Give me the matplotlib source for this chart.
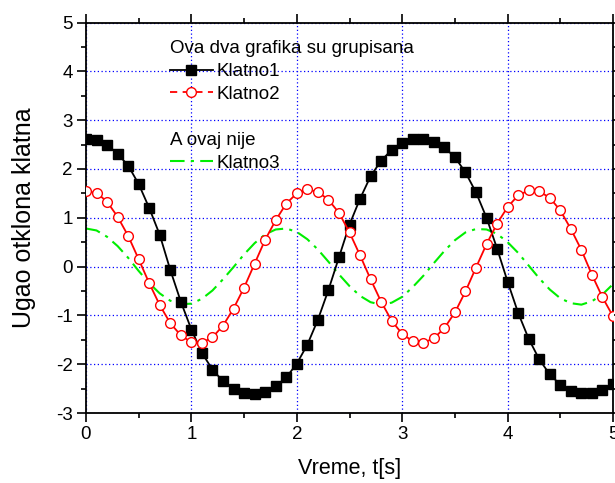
import matplotlib
matplotlib.use("Agg")
import matplotlib.pyplot as plt
from matplotlib.lines import Line2D
from matplotlib.ticker import MultipleLocator

plt.rcParams['font.family'] = ['Liberation Sans', 'DejaVu Sans']
plt.rcParams['axes.unicode_minus'] = False

# vreme [s], korak 0.1
t = [round(0.1 * i, 1) for i in range(51)]

klatno1 = [2.61, 2.59, 2.50, 2.31, 2.07, 1.69, 1.20, 0.65, -0.07, -0.72,
           -1.29, -1.77, -2.11, -2.35, -2.50, -2.59, -2.61, -2.56, -2.45, -2.27,
           -1.99, -1.60, -1.09, -0.48, 0.19, 0.86, 1.39, 1.85, 2.17, 2.39,
           2.54, 2.61, 2.61, 2.56, 2.44, 2.24, 1.93, 1.52, 1.00, 0.37,
           -0.31, -0.95, -1.48, -1.90, -2.21, -2.42, -2.55, -2.60, -2.59, -2.53,
           -2.40]

klatno2 = [1.54, 1.51, 1.33, 1.02, 0.63, 0.15, -0.34, -0.79, -1.16, -1.41,
           -1.55, -1.56, -1.45, -1.21, -0.86, -0.43, 0.06, 0.55, 0.95, 1.29,
           1.50, 1.58, 1.53, 1.37, 1.10, 0.70, 0.23, -0.26, -0.72, -1.11,
           -1.38, -1.53, -1.56, -1.47, -1.26, -0.94, -0.51, -0.02, 0.46, 0.88,
           1.22, 1.46, 1.56, 1.54, 1.41, 1.15, 0.77, 0.34, -0.17, -0.63,
           -1.02]

klatno3 = [0.78, 0.74, 0.61, 0.42, 0.18, -0.09, -0.34, -0.55, -0.70, -0.77,
           -0.76, -0.66, -0.49, -0.26, -0.01, 0.25, 0.48, 0.66, 0.76, 0.78,
           0.71, 0.56, 0.35, 0.10, -0.16, -0.40, -0.60, -0.73, -0.78, -0.74,
           -0.62, -0.42, -0.19, 0.07, 0.32, 0.54, 0.70, 0.77, 0.76, 0.67,
           0.50, 0.28, 0.02, -0.24, -0.47, -0.65, -0.75, -0.78, -0.71, -0.57,
           -0.36]

GREEN = '#00ee00'
DASHDOT = (0, (7, 3, 1.5, 3))

fig = plt.figure(figsize=(6.15, 4.83), dpi=100)
ax = fig.add_axes([0.1398, 0.1449, 0.857, 0.8085])

ax.plot(t, klatno1, color='black', lw=1.3, marker='s', ms=6.5,
        mfc='black', mec='black', zorder=3)
ax.plot(t, klatno2, color='red', lw=1.3, marker='o', ms=7,
        mfc='white', mec='red', mew=1.0, zorder=3)
ax.plot(t, klatno3, color=GREEN, lw=1.5, ls=DASHDOT, zorder=2)

ax.set_xlim(0, 5)
ax.set_ylim(-3, 5)
ax.xaxis.set_major_locator(MultipleLocator(1))
ax.xaxis.set_minor_locator(MultipleLocator(0.5))
ax.yaxis.set_major_locator(MultipleLocator(1))
ax.yaxis.set_minor_locator(MultipleLocator(0.5))

ax.grid(True, which='major', color='blue', ls=(0, (1, 2)), lw=0.9)
ax.set_axisbelow(True)

for sp in ax.spines.values():
    sp.set_linewidth(1.3)
ax.tick_params(which='both', direction='out', top=True, right=True,
               labelsize=13.5, width=1.2)
ax.tick_params(which='major', length=6.5, pad=3)
ax.tick_params(which='minor', length=3.5)

ax.set_xlabel('Vreme, t[s]', fontsize=15.5, labelpad=11)
ax.set_ylabel('Ugao otklona klatna', fontsize=18, labelpad=14)

# legende: prve dve krive zajedno, treca posebno
h1 = Line2D([], [], color='black', lw=1.3, marker='s', ms=6.5)
h2 = Line2D([], [], color='red', lw=1.3, ls=(0, (4, 3)), marker='o', ms=7,
            mfc='white', mec='red')
h3 = Line2D([], [], color=GREEN, lw=1.5, ls=DASHDOT)

leg_kw = dict(alignment='left', loc='upper left', frameon=False,
              fontsize=13.5, title_fontsize=13.5, handlelength=2.28,
              handletextpad=0.21, labelspacing=0.3, borderpad=0.0,
              borderaxespad=0.0)

leg1 = ax.legend([h1, h2], ['Klatno1', 'Klatno2'],
                 title='Ova dva grafika su grupisana', numpoints=1,
                 bbox_to_anchor=(0.159, 0.954), **leg_kw)
ax.add_artist(leg1)
ax.legend([h3], ['Klatno3'], title='A ovaj nije',
          bbox_to_anchor=(0.159, 0.72), **leg_kw)

fig.savefig('out.png', dpi=100)
